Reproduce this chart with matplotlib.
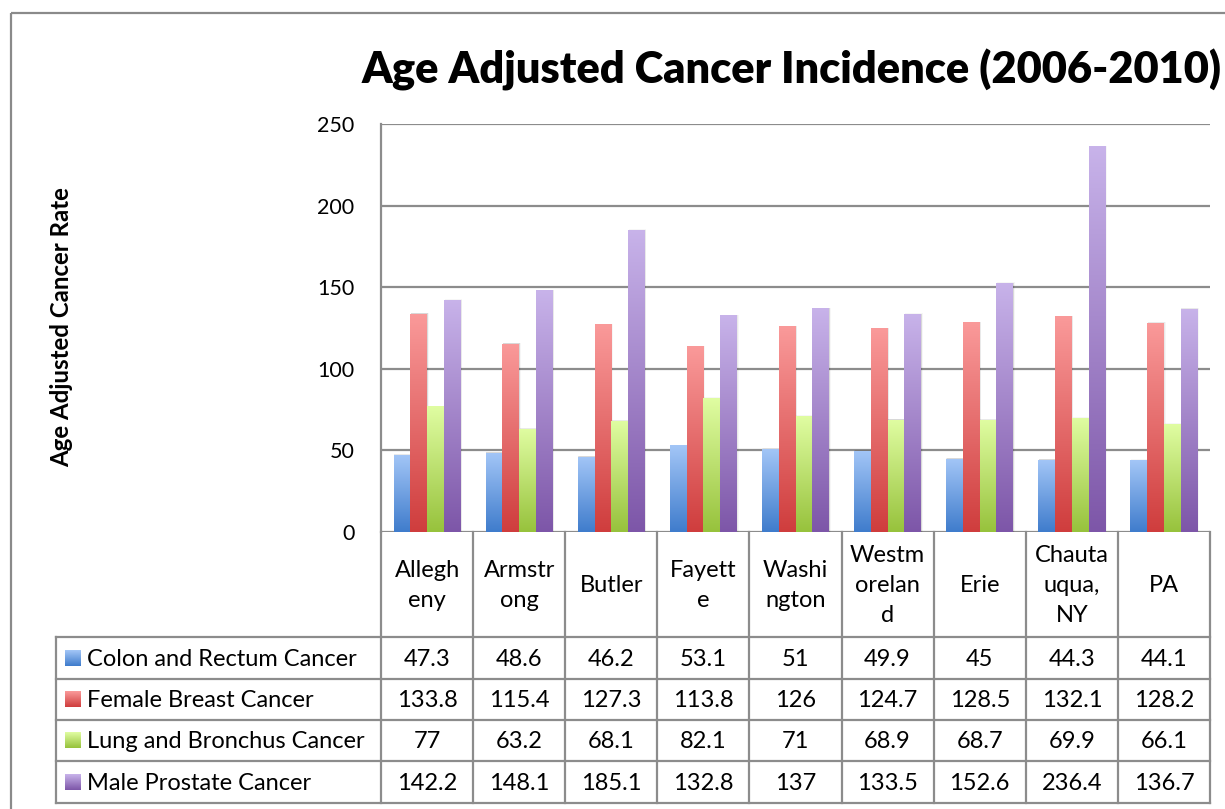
import numpy as np
import matplotlib
matplotlib.use("Agg")
import matplotlib.pyplot as plt
from matplotlib.transforms import blended_transform_factory
from matplotlib.patches import Rectangle
from matplotlib.colors import LinearSegmentedColormap

# ---------------- data ----------------
category_labels = ["Allegh\neny", "Armstr\nong", "Butler", "Fayett\ne", "Washi\nngton",
                   "Westm\norelan\nd", "Erie", "Chauta\nuqua,\nNY", "PA"]
series_names = ["Colon and Rectum Cancer", "Female Breast Cancer",
                "Lung and Bronchus Cancer", "Male Prostate Cancer"]
colon = [47.3, 48.6, 46.2, 53.1, 51, 49.9, 45, 44.3, 44.1]
breast = [133.8, 115.4, 127.3, 113.8, 126, 124.7, 128.5, 132.1, 128.2]
lung = [77, 63.2, 68.1, 82.1, 71, 68.9, 68.7, 69.9, 66.1]
prostate = [142.2, 148.1, 185.1, 132.8, 137, 133.5, 152.6, 236.4, 136.7]
y_ticks = [0, 50, 100, 150, 200, 250]
title = "Age Adjusted Cancer Incidence (2006-2010)"
ylabel = "Age Adjusted Cancer Rate"

series_values = [colon, breast, lung, prostate]
# (top colour, bottom colour) of the gradient fill
series_colors = [("#a3c6f7", "#3f7ccc"), ("#fa9a9a", "#cf3d3d"),
                 ("#e0fda2", "#97c23c"), ("#c8b3ea", "#7d56a8")]

FONT = "Lato"
GRID = "#8c8c8c"
W, H = 1225, 809

fig = plt.figure(figsize=(W / 100, H / 100), dpi=100)
fig.patch.set_facecolor("white")

# plot area in pixel coords
PL, PR, PT, PB = 381, 1210, 124, 532
ax = fig.add_axes([PL / W, 1 - PB / H, (PR - PL) / W, (PB - PT) / H])
ax.set_facecolor("none")

n = len(category_labels)
x = np.arange(n)
bw = 1 / 5.5
offsets = (np.arange(4) - 1.5) * bw

for vals, (ctop, cbot), off in zip(series_values, series_colors, offsets):
    cmap = LinearSegmentedColormap.from_list("g", [cbot, ctop])
    bars = ax.bar(x + off, vals, width=bw, color="none", edgecolor="none", zorder=3)
    grad = np.linspace(0, 1, 256).reshape(-1, 1)
    for b in bars:
        x0, y0 = b.get_x(), b.get_y()
        w_, h_ = b.get_width(), b.get_height()
        # soft shadow
        for k, a in [(0.016, 0.035), (0.010, 0.05), (0.005, 0.07)]:
            ax.add_patch(Rectangle((x0 + k * 0.5, y0), w_ + k * 0.6, h_ + k * 25,
                                   facecolor="#000000", alpha=a, edgecolor="none",
                                   zorder=2))
        im = ax.imshow(grad, extent=[x0, x0 + w_, y0, y0 + h_], origin="lower",
                       cmap=cmap, aspect="auto", zorder=3, interpolation="bilinear")
        im.set_clip_path(b)

ax.set_xlim(-0.5, n - 0.5)
ax.set_ylim(0, 250)
ax.set_yticks(y_ticks)
ax.set_xticks([])
ax.yaxis.grid(True, color=GRID, lw=1.6, zorder=1)
ax.set_axisbelow(True)
for s in ["top", "right", "bottom"]:
    ax.spines[s].set_visible(False)
ax.spines["left"].set_color(GRID)
ax.spines["left"].set_linewidth(1.6)
ax.tick_params(axis="y", length=0, pad=19, labelsize=15.5, labelcolor="black")
for t in ax.get_yticklabels():
    t.set_fontfamily(FONT)

# overlay for table, title, border
ov = fig.add_axes([0, 0, 1, 1], zorder=5)
ov.set_xlim(0, W)
ov.set_ylim(H, 0)
ov.axis("off")
ov.patch.set_visible(False)

ov.add_patch(Rectangle((10.5, 12.5), 1400, 1000, fill=False, edgecolor="#8a8a8a", lw=1.6))

tr = blended_transform_factory(ax.transData, ov.transData)

fig.canvas.draw()
renderer = fig.canvas.get_renderer()


def fit_width(t, px, vertical=False):
    bb = t.get_window_extent(renderer)
    cur = bb.height if vertical else bb.width
    t.set_fontsize(t.get_fontsize() * px / cur)


ttl = ov.text(792, 70, title, ha="center", va="center", fontsize=30,
              fontweight="heavy", family=FONT)
fit_width(ttl, 860)

yl = ov.text(62, 327, ylabel, ha="center", va="center", rotation=90, fontsize=14,
             fontweight="bold", family=FONT)
fit_width(yl, 282, vertical=True)

# table
hdr_top, hdr_bot = PB, 637
row_edges = [637, 679, 720, 761, 803]
leg_left = 56
lc = dict(color=GRID, lw=1.6, solid_capstyle="projecting")
for b in np.arange(n + 1) - 0.5:
    ov.plot([b, b], [hdr_top, row_edges[-1]], transform=tr, **lc)
for yy in row_edges:
    ov.plot([leg_left, PR], [yy, yy], **lc)
ov.plot([leg_left, leg_left], [row_edges[0], row_edges[-1]], **lc)

TABLE_FS = 17
hdr_mid = (hdr_top + hdr_bot) / 2
for i, lab in enumerate(category_labels):
    ov.text(i, hdr_mid + 1, lab, transform=tr, ha="center", va="center",
            multialignment="center", fontsize=TABLE_FS, family=FONT, linespacing=1.5)

for r, (name, vals, (ctop, cbot)) in enumerate(zip(series_names, series_values, series_colors)):
    ymid = (row_edges[r] + row_edges[r + 1]) / 2
    for i, v in enumerate(vals):
        ov.text(i, ymid + 1, f"{v:g}", transform=tr, ha="center", va="center",
                fontsize=TABLE_FS, family=FONT)
    nm = ov.text(87, ymid + 1, name, ha="left", va="center", fontsize=TABLE_FS, family=FONT)
    cmap = LinearSegmentedColormap.from_list("g", [cbot, ctop])
    ov.imshow(np.linspace(0, 1, 64).reshape(-1, 1), extent=[65, 81, ymid + 8, ymid - 8],
              origin="lower", cmap=cmap, aspect="auto", zorder=3)

ov.set_xlim(0, W)
ov.set_ylim(H, 0)

fig.savefig("out.png", dpi=100, facecolor="white")
